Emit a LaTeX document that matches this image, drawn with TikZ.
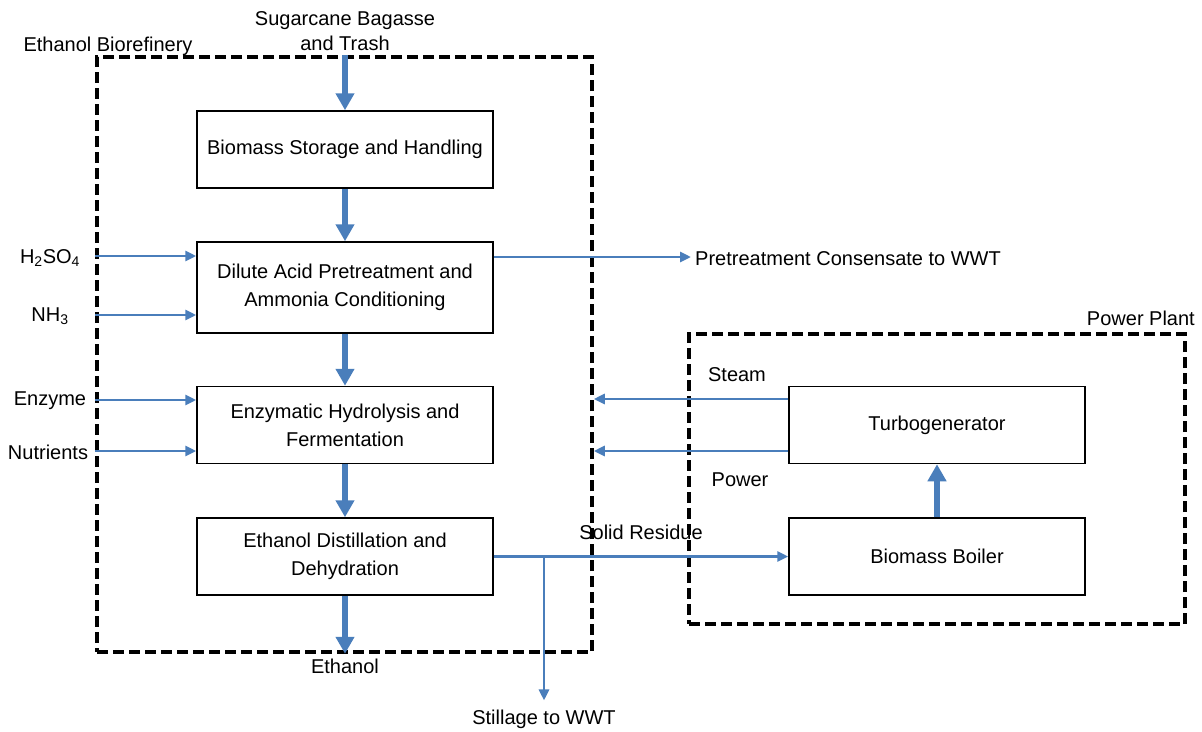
\documentclass[tikz,border=0pt]{standalone}
\usepackage{fontspec}
\setmainfont{Liberation Sans}
\usetikzlibrary{arrows.meta,positioning}
\definecolor{flowblue}{RGB}{74,126,187}
\tikzset{
  unit/.style={draw, line width=1.5pt, minimum width=296pt, minimum height=77pt, align=center, font=\fontsize{20}{28}\selectfont},
  zone/.style={draw, line width=3.5pt, dash pattern=on 11pt off 5pt},
  lbl/.style={font=\fontsize{20}{25}\selectfont, inner sep=0pt, align=center},
  main/.style={flowblue, line width=6pt, -{Triangle[length=17pt,width=18pt]}},
  side/.style={flowblue, line width=2.8pt, -{Triangle[length=11pt,width=10pt]}}
}
\begin{document}
\begin{tikzpicture}[x=1pt, y=-1pt]
            \useasboundingbox (0,0) rectangle (1202,731);
            \node[zone, minimum width=495pt, minimum height=595pt] (bio) at (344.5,354.5) {};
            \node[zone, minimum width=496pt, minimum height=290pt] (pp) at (937,479) {};
            \node[unit] (store) at (345,149.5) {Biomass Storage and Handling};
            \node[unit, minimum height=91pt] (pre) at (345,287.5) {Dilute Acid Pretreatment and\\Ammonia Conditioning};
            \node[unit] (hyd) at (345,425) {Enzymatic Hydrolysis and\\Fermentation};
            \node[unit] (dist) at (345,556.5) {Ethanol Distillation and\\Dehydration};
            \node[unit] (turb) at (937,425) {Turbogenerator};
            \node[unit] (boil) at (937,556.5) {Biomass Boiler};
            \node[lbl] (feed) at (345,31) {Sugarcane Bagasse\\and Trash};
            \node[lbl] (biolbl) at (108,46) {Ethanol Biorefinery};
            \node[lbl, anchor=east] (pplbl) at (1195,318) {Power Plant};
            \node[lbl] (h2so4) at (50,258) {H\textsubscript{2}SO\textsubscript{4}};
            \node[lbl] (nh3) at (50,316) {NH\textsubscript{3}};
            \node[lbl] (enz) at (50,401) {Enzyme};
            \node[lbl] (nutr) at (48,452) {Nutrients};
            \node[lbl, anchor=west] (pcw) at (695,259) {Pretreatment Consensate to WWT};
            \node[lbl] (steam) at (737,375) {Steam};
            \node[lbl] (power) at (740,480) {Power};
            \node[lbl] (solid) at (641,532) {Solid Residue};
            \node[lbl] (etoh) at (345,666) {Ethanol};
            \node[lbl] (still) at (544,719) {Stillage to WWT};
            \draw[main] (bio.north -| store) -- (store.north);
            \draw[main] (store) -- (pre);
            \draw[main] (pre) -- (hyd);
            \draw[main] (hyd) -- (dist);
            \draw[main] (dist) -- (dist |- bio.south);
            \draw[main] (boil) -- (turb);
            \draw[side] (bio.west |- 0,256) -- (pre.west |- 0,256);
            \draw[side] (bio.west |- 0,315) -- (pre.west |- 0,315);
            \draw[side] (bio.west |- 0,400) -- (hyd.west |- 0,400);
            \draw[side] (bio.west |- 0,451) -- (hyd.west |- 0,451);
            \draw[side, shorten >=4pt] (pre.east |- 0,257) -- (pcw.west |- 0,257);
            \draw[side] ([yshift=26pt]turb.west) coordinate (stout) -- (stout -| bio.east);
            \draw[side] ([yshift=-26pt]turb.west) coordinate (pwout) -- (pwout -| bio.east);
            \draw[side] (dist.east) -- (boil.west);
            \coordinate (split) at (544,556.5);
            \draw[side, shorten >=9pt] (split) -- (still.north);
        \end{tikzpicture}
\end{document}
